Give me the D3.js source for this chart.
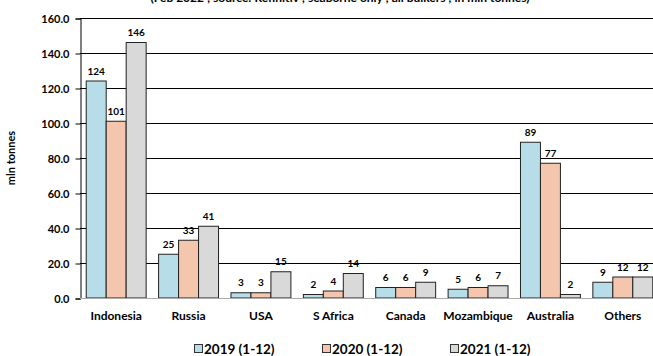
<!DOCTYPE html>
<html>
<head>
<meta charset="utf-8">
<script src="https://cdn.jsdelivr.net/npm/d3@7"></script>
<style>
  body { margin: 0; background: #fff; }
  svg { display: block; font-family: Lato, "Liberation Sans", sans-serif; }
</style>
</head>
<body>
<div id="chart"></div>
<script>
// data
var countries = ["Indonesia", "Russia", "USA", "S Africa", "Canada", "Mozambique", "Australia", "Others"];
var seriesNames = ["2019 (1-12)", "2020 (1-12)", "2021 (1-12)"];
var v2019 = [124, 25, 3, 2, 6, 5, 89, 9];
var v2020 = [101, 33, 3, 4, 6, 6, 77, 12];
var v2021 = [146, 41, 15, 14, 9, 7, 2, 12];
var yTicks = [0, 20, 40, 60, 80, 100, 120, 140, 160];
var colors = ["#B7DEE8", "#F3C6AD", "#D9D9D9"];

var width = 653, height = 356;
var series = [v2019, v2020, v2021];

var svg = d3.select("#chart").append("svg")
  .attr("width", width)
  .attr("height", height);

// plot box
var plotLeft = 80, plotRight = 659, plotTop = 18, plotBottom = 298;

var x0 = d3.scaleBand().domain(countries).range([plotLeft, plotRight]).paddingInner(0.172).paddingOuter(0.086);
var x1 = d3.scaleBand().domain(d3.range(3)).range([0, x0.bandwidth()]);
var y = d3.scaleLinear().domain([0, 160]).range([plotBottom, plotTop]);

// title, cut off at the top
svg.append("text")
  .attr("x", 340).attr("y", 2)
  .attr("text-anchor", "middle")
  .attr("font-size", 12).attr("font-weight", "bold")
  .text("(Feb 2022 ; source: Refinitiv ; seaborne only ; all bulkers ; in mln tonnes)");

// gridlines
svg.append("g").selectAll("line")
  .data(yTicks.filter(function(d) { return d > 0; }))
  .enter().append("line")
  .attr("x1", plotLeft).attr("x2", width)
  .attr("y1", function(d) { return Math.round(y(d)) + 0.5; })
  .attr("y2", function(d) { return Math.round(y(d)) + 0.5; })
  .attr("stroke", "#000").attr("stroke-width", 1);

// y axis
var yAxis = d3.axisLeft(y).tickValues(yTicks).tickSize(5).tickPadding(6)
  .tickFormat(function(d) { return d3.format(".1f")(d); });
var gy = svg.append("g")
  .attr("transform", "translate(" + (plotLeft + 0.5) + ",0.5)")
  .call(yAxis);
gy.select(".domain").attr("stroke", "#000");
gy.selectAll(".tick line").attr("stroke", "#000");
gy.selectAll("text")
  .attr("font-family", "Lato, sans-serif")
  .attr("font-size", 11).attr("font-weight", "bold").attr("fill", "#000");

// axis title
svg.append("text")
  .attr("transform", "translate(15," + ((plotTop + plotBottom) / 2) + ") rotate(-90)")
  .attr("text-anchor", "middle")
  .attr("font-size", 11).attr("font-weight", "bold")
  .text("mln tonnes");

function pointsOf(d, i) {
  return series.map(function(s, k) { return { k: k, v: s[i] }; });
}

// value labels: white boxes go under the bars, text on top
var groups = svg.append("g").selectAll("g")
  .data(countries)
  .enter().append("g")
  .attr("transform", function(d) { return "translate(" + x0(d) + ",0)"; });

var boxes = groups.selectAll("rect.box")
  .data(pointsOf)
  .enter().append("rect").attr("class", "box")
  .attr("fill", "#fff");

groups.selectAll("rect.bar")
  .data(pointsOf)
  .enter().append("rect").attr("class", "bar")
  .attr("x", function(d) { return x1(d.k); })
  .attr("y", function(d) { return y(d.v); })
  .attr("width", x1.bandwidth())
  .attr("height", function(d) { return y(0) - y(d.v); })
  .attr("fill", function(d) { return colors[d.k]; })
  .attr("stroke", "#222").attr("stroke-width", 1);

var texts = groups.selectAll("text.val")
  .data(pointsOf)
  .enter().append("text").attr("class", "val")
  .attr("x", function(d) { return x1(d.k) + x1.bandwidth() / 2; })
  .attr("y", function(d) { return y(d.v) - 10; })
  .attr("text-anchor", "middle")
  .attr("dy", "0.35em")
  .attr("font-size", 10).attr("font-weight", "bold")
  .text(function(d) { return d.v; });

texts.each(function(d) { d.w = this.getComputedTextLength(); });
boxes
  .attr("x", function(d) { return x1(d.k) + x1.bandwidth() / 2 - d.w / 2 - 3; })
  .attr("width", function(d) { return d.w + 6; })
  .attr("y", function(d) { return y(d.v) - 18; })
  .attr("height", 16);

// baseline
svg.append("line")
  .attr("x1", plotLeft).attr("x2", width)
  .attr("y1", plotBottom + 0.5).attr("y2", plotBottom + 0.5)
  .attr("stroke", "#aaa");

// x labels
svg.append("g").selectAll("text")
  .data(countries)
  .enter().append("text")
  .attr("x", function(d) { return x0(d) + x0.bandwidth() / 2; })
  .attr("y", 320)
  .attr("text-anchor", "middle")
  .attr("font-size", 12).attr("font-weight", "bold")
  .text(function(d) { return d; });

// legend
var legendX = [194, 322, 450];
var leg = svg.append("g").selectAll("g")
  .data(seriesNames)
  .enter().append("g")
  .attr("transform", function(d, i) { return "translate(" + legendX[i] + ",349)"; });

leg.append("rect")
  .attr("x", 0.5).attr("y", -4.5)
  .attr("width", 8).attr("height", 8)
  .attr("fill", function(d, i) { return colors[i]; })
  .attr("stroke", "#333");

leg.append("text")
  .attr("x", 10).attr("dy", "0.35em")
  .attr("font-size", 13.5).attr("font-weight", "bold")
  .text(function(d) { return d; });
</script>
</body>
</html>
